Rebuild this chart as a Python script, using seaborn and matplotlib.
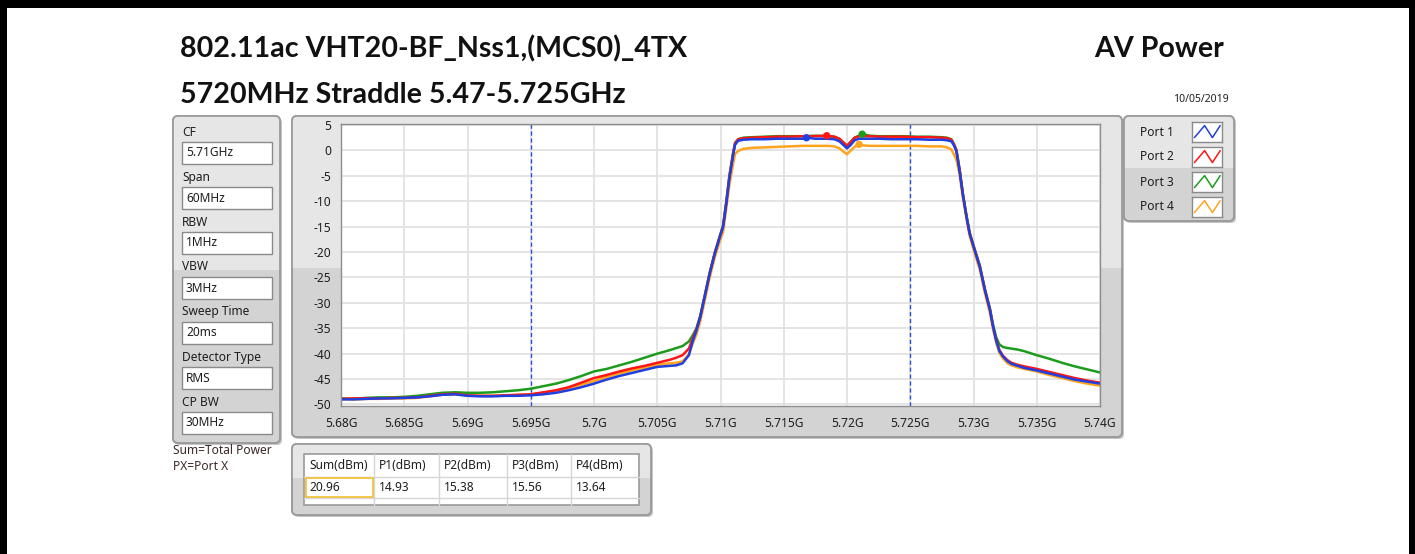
import numpy as np
import pandas as pd
import matplotlib
matplotlib.use("Agg")
import matplotlib.pyplot as plt
import seaborn as sns
from matplotlib.patches import FancyBboxPatch, Rectangle
from matplotlib.transforms import Affine2D

# ---------------------------------------------------------------- data
freq_mhz = [
    5680, 5681, 5682, 5683, 5684, 5685, 5686, 5687, 5688, 5689, 5690, 5691, 5692, 5693,
    5694, 5695, 5696, 5697, 5698, 5699, 5700, 5701, 5702, 5703, 5704, 5705, 5706,
    5706.5, 5707, 5707.5, 5707.8, 5708.1, 5708.4, 5708.75, 5709.15, 5709.55, 5709.95,
    5710.2, 5710.45, 5710.7, 5711.0, 5711.15, 5711.4,
    5711.8, 5712.5, 5713.5, 5714.5, 5715.5, 5716.5, 5716.8, 5717.5, 5718.4, 5719.0,
    5719.4, 5719.7, 5720.0, 5720.3, 5720.6, 5720.95, 5721.2, 5721.8, 5722.5, 5723.5,
    5724.5, 5725.5, 5726.5, 5727.5, 5727.9,
    5728.25, 5728.45, 5728.65, 5728.9, 5729.15, 5729.45, 5729.7, 5730.1, 5730.5,
    5730.9, 5731.3, 5731.55, 5731.8, 5732.05, 5732.35, 5732.7, 5733.0, 5733.5,
    5734, 5735, 5736, 5737, 5738, 5739, 5740,
]

port1_dbm = [  # blue
    -49.0, -49.0, -48.9, -48.8, -48.8, -48.7, -48.6, -48.4, -48.1, -48.0, -48.3, -48.4, -48.4, -48.3,
    -48.3, -48.2, -48.0, -47.7, -47.2, -46.6, -45.9, -45.1, -44.4, -43.8, -43.2, -42.6, -42.4,
    -42.3, -41.9, -40.3, -37.6, -35.4, -32.8, -28.8, -24.2, -20.3, -17.0,
    -15.1, -10.6, -5.5, -0.9, 1.1, 1.9,
    2.1, 2.2, 2.2, 2.3, 2.3, 2.3, 2.5, 2.3, 2.3, 2.2,
    1.8, 1.1, 0.4, 1.1, 2.0, 2.3, 2.3, 2.3, 2.3, 2.2,
    2.2, 2.2, 2.1, 2.1, 2.0,
    1.8, 1.0, -0.2, -4.0, -8.6, -13.1, -16.4, -19.7, -22.9,
    -27.5, -31.4, -34.7, -37.5, -39.5, -40.6, -41.5, -42.0, -42.4,
    -42.8, -43.3, -43.9, -44.5, -45.1, -45.5, -45.9,
]

port2_dbm = [  # red
    -48.9, -48.8, -48.8, -48.8, -48.7, -48.7, -48.6, -48.3, -48.0, -47.9, -48.2, -48.3, -48.3, -48.2,
    -48.1, -48.0, -47.6, -47.2, -46.6, -45.7, -44.8, -44.2, -43.5, -42.9, -42.4, -41.8, -41.2,
    -40.8, -40.3, -39.0, -37.0, -35.2, -32.7, -28.7, -24.1, -20.2, -16.9,
    -15.0, -10.4, -5.2, -0.6, 1.4, 2.2,
    2.4, 2.5, 2.6, 2.7, 2.7, 2.8, 2.8, 2.8, 2.9, 2.7,
    2.3, 1.6, 0.9, 1.7, 2.5, 2.8, 2.8, 2.8, 2.7, 2.7,
    2.7, 2.6, 2.6, 2.5, 2.4,
    2.1, 1.2, 0.0, -3.8, -8.4, -13.0, -16.3, -19.6, -22.8,
    -27.4, -31.3, -34.6, -37.3, -39.3, -40.5, -41.3, -41.8, -42.2,
    -42.5, -43.0, -43.6, -44.2, -44.8, -45.3, -45.7,
]

port3_dbm = [  # green
    -48.8, -48.9, -48.7, -48.6, -48.6, -48.5, -48.3, -48.0, -47.7, -47.6, -47.7, -47.7, -47.6, -47.4,
    -47.2, -46.9, -46.4, -45.9, -45.2, -44.4, -43.5, -43.0, -42.3, -41.6, -40.8, -40.0, -39.3,
    -38.9, -38.5, -37.6, -36.4, -35.0, -32.5, -28.6, -24.0, -20.1, -16.8,
    -14.8, -10.2, -5.0, -0.4, 1.5, 2.2,
    2.5, 2.6, 2.7, 2.8, 2.8, 2.8, 2.8, 2.9, 2.8, 2.7,
    2.3, 1.6, 0.9, 1.7, 2.5, 2.9, 3.2, 2.9, 2.8, 2.8,
    2.8, 2.7, 2.7, 2.6, 2.5,
    2.2, 1.3, 0.1, -3.7, -8.3, -12.9, -16.2, -19.5, -22.7,
    -27.2, -31.1, -34.4, -36.8, -38.2, -38.7, -38.9, -39.0, -39.2,
    -39.5, -40.3, -41.0, -41.8, -42.5, -43.1, -43.7,
]

port4_dbm = [  # orange
    -48.9, -49.0, -48.9, -48.9, -48.8, -48.8, -48.7, -48.4, -48.1, -48.0, -48.2, -48.3, -48.3, -48.2,
    -48.1, -48.0, -47.7, -47.3, -46.8, -46.1, -45.4, -44.6, -43.9, -43.3, -42.8, -42.2, -41.9,
    -41.8, -41.5, -40.2, -38.0, -36.2, -33.6, -29.6, -25.0, -21.0, -17.8,
    -16.1, -11.6, -6.8, -2.6, -0.7, -0.1,
    0.3, 0.5, 0.6, 0.7, 0.8, 0.9, 0.9, 0.9, 0.9, 0.8,
    0.4, -0.2, -0.75, 0.0, 0.7, 1.2, 1.0, 0.9, 0.9, 0.9,
    0.9, 0.9, 0.8, 0.8, 0.6,
    0.2, -0.8, -1.8, -4.8, -9.2, -13.6, -16.9, -20.3, -23.5,
    -28.1, -32.0, -35.3, -37.9, -39.9, -41.0, -41.9, -42.3, -42.7,
    -43.0, -43.5, -44.2, -44.8, -45.4, -45.9, -46.3,
]

port_names = ["Port 1", "Port 2", "Port 3", "Port 4"]
port_colors = ["#1f3fe0", "#ff1515", "#1c9c1c", "#ffa41c"]

x_ticks_mhz = [5680, 5685, 5690, 5695, 5700, 5705, 5710, 5715, 5720, 5725, 5730, 5735, 5740]
x_tick_labels = ["5.68G", "5.685G", "5.69G", "5.695G", "5.7G", "5.705G", "5.71G",
                 "5.715G", "5.72G", "5.725G", "5.73G", "5.735G", "5.74G"]
y_ticks = [5, 0, -5, -10, -15, -20, -25, -30, -35, -40, -45, -50]
y_tick_labels = ["5", "0", "-5", "-10", "-15", "-20", "-25", "-30", "-35", "-40", "-45", "-50"]
band_lines_mhz = [5695, 5725]

param_labels = ["CF", "Span", "RBW", "VBW", "Sweep Time", "Detector Type", "CP BW"]
param_values = ["5.71GHz", "60MHz", "1MHz", "3MHz", "20ms", "RMS", "30MHz"]

table_headers = ["Sum(dBm)", "P1(dBm)", "P2(dBm)", "P3(dBm)", "P4(dBm)"]
table_values = ["20.96", "14.93", "15.38", "15.56", "13.64"]

title_text = "802.11ac VHT20-BF_Nss1,(MCS0)_4TX"
subtitle_text = "5720MHz Straddle 5.47-5.725GHz"
mode_text = "AV Power"
date_text = "10/05/2019"
note_lines = ["Sum=Total Power", "PX=Port X"]

# ---------------------------------------------------------------- figure
sns.set_theme(style="white")
plt.rcParams["font.family"] = ["Noto Sans", "DejaVu Sans"]
plt.rcParams["axes.unicode_minus"] = False

W, H = 1415, 554
fig = plt.figure(figsize=(W / 100, H / 100), dpi=100)
fig.patch.set_facecolor("white")

# pixel coordinates, origin top-left
PX = Affine2D().scale(1.0 / W, -1.0 / H).translate(0, 1) + fig.transFigure

TXT = "#1e1e1e"
BORDER = "#9c9c9c"
LIGHT = "#e6e6e6"
DARK = "#d3d3d3"
HEAD_FONT = ["Lato", "Open Sans", "DejaVu Sans"]


def panel(x0, y0, x1, y1, split):
    shadow = FancyBboxPatch((x0 + 2, y0 + 2), x1 - x0, y1 - y0,
                            boxstyle="round,pad=0,rounding_size=5",
                            transform=PX, facecolor="#c4c4c4", edgecolor="none", zorder=1)
    fig.add_artist(shadow)
    box = FancyBboxPatch((x0, y0), x1 - x0, y1 - y0,
                         boxstyle="round,pad=0,rounding_size=5",
                         transform=PX, facecolor=DARK, edgecolor=BORDER, lw=1.3, zorder=2)
    fig.add_artist(box)
    top = Rectangle((x0, y0), x1 - x0, split - y0, transform=PX,
                    facecolor=LIGHT, edgecolor="none", zorder=2.1)
    top.set_clip_path(box)
    fig.add_artist(top)
    edge = FancyBboxPatch((x0, y0), x1 - x0, y1 - y0,
                          boxstyle="round,pad=0,rounding_size=5",
                          transform=PX, facecolor="none", edgecolor=BORDER, lw=1.3, zorder=2.2)
    fig.add_artist(edge)


def field(x0, y0, x1, y1, z=3):
    fig.add_artist(Rectangle((x0, y0), x1 - x0, y1 - y0, transform=PX,
                             facecolor="white", edgecolor="#8a8a8a", lw=1.0, zorder=z))


# outer frame (black bands top, left, right)
for rx, ry, rw, rh in [(0, 0, W, 8), (0, 0, 7, H), (W - 6, 0, 6, H)]:
    fig.add_artist(Rectangle((rx, ry), rw, rh, transform=PX, facecolor="black",
                             edgecolor="none", zorder=10))

# titles
fig.text(180, 57, title_text, transform=PX, fontsize=20.6, fontweight="bold",
         family=HEAD_FONT, color="#111111", ha="left", va="baseline")
fig.text(180, 103, subtitle_text, transform=PX, fontsize=20.6, fontweight="bold",
         family=HEAD_FONT, color="#111111", ha="left", va="baseline")
fig.text(1224, 57, mode_text, transform=PX, fontsize=20.6, fontweight="bold",
         family=HEAD_FONT, color="#111111", ha="right", va="baseline")
fig.text(1229, 99, date_text, transform=PX, fontsize=7.5, color=TXT,
         ha="right", va="center")

# panels
panel(173, 116, 280, 443, 270)
panel(292, 116, 1122, 437, 268)
panel(1124, 116, 1234, 221, 168)
panel(292, 444, 651, 515, 478)

# settings column
for i, (lab, val) in enumerate(zip(param_labels, param_values)):
    yc = 132 + 45 * i
    fig.text(182, yc, lab, transform=PX, fontsize=8.6, color=TXT, ha="left",
             va="center", zorder=4)
    field(182, yc + 10, 272, yc + 32)
    fig.text(186, yc + 21, val, transform=PX, fontsize=8.6, color=TXT, ha="left",
             va="center", zorder=4)

for i, line in enumerate(note_lines):
    fig.text(173, 451 + 16 * i, line, transform=PX, fontsize=8.6, color="#3d2828",
             ha="left", va="center")

# ---------------------------------------------------------------- spectrum axes
ax = fig.add_axes([341 / W, 1 - 406 / H, 759 / W, 282 / H])
ax.set_zorder(5)
ax.set_facecolor("white")

long_df = pd.DataFrame({
    "freq": freq_mhz * 4,
    "level": port1_dbm + port2_dbm + port3_dbm + port4_dbm,
    "port": [n for n in port_names for _ in freq_mhz],
})
palette = dict(zip(port_names, port_colors))

sns.lineplot(data=long_df, x="freq", y="level", hue="port",
             hue_order=port_names[::-1], palette=palette, estimator=None,
             sort=False, linewidth=1.8, legend=False, ax=ax)

# peak marker of each trace
peaks = long_df.loc[long_df.groupby("port")["level"].idxmax()]
sns.scatterplot(data=peaks, x="freq", y="level", hue="port", palette=palette,
                s=28, edgecolor="none", legend=False, ax=ax, zorder=6)

for f in band_lines_mhz:
    ax.axvline(f, color="#2a4fd6", lw=1.0, ls=(0, (3, 2)), zorder=1)

ax.set_xlim(x_ticks_mhz[0], x_ticks_mhz[-1])
ax.set_ylim(-50.3, 5.2)
ax.set_xticks(x_ticks_mhz)
ax.set_xticklabels(x_tick_labels)
ax.set_yticks(y_ticks)
ax.set_yticklabels(y_tick_labels)
ax.grid(True, color="#e2e2e2", lw=1.3, zorder=0)
ax.set_axisbelow(True)
ax.tick_params(axis="both", which="both", direction="out", length=5, width=1,
               color="#333333", labelsize=8.6, labelcolor=TXT)
ax.tick_params(axis="x", pad=3)
ax.tick_params(axis="y", pad=2)
ax.set_xlabel("")
ax.set_ylabel("")
for sp in ax.spines.values():
    sp.set_color("#8e8e8e")
    sp.set_linewidth(1.0)

# ---------------------------------------------------------------- legend panel
for i, (name, col) in enumerate(zip(port_names, port_colors)):
    yc = 132 + 25 * i
    fig.text(1140, yc, name, transform=PX, fontsize=8.6, color=TXT, ha="left",
             va="center", zorder=4)
    icon = fig.add_axes([1192 / W, 1 - (yc + 10) / H, 30 / W, 20 / H])
    icon.set_zorder(6)
    icon.plot([0.08, 0.42, 0.68, 0.94], [0.22, 0.82, 0.22, 0.82], color=col, lw=1.1)
    icon.set_xlim(0, 1)
    icon.set_ylim(0, 1)
    icon.set_xticks([])
    icon.set_yticks([])
    icon.set_facecolor("white")
    for sp in icon.spines.values():
        sp.set_color("#8a8a8a")
        sp.set_linewidth(1.0)

# ---------------------------------------------------------------- power table
col_edges = [304, 374, 439, 507, 571, 639]
row_edges = [454, 477, 498, 505]
fig.add_artist(Rectangle((col_edges[0], row_edges[0]), col_edges[-1] - col_edges[0],
                         row_edges[-1] - row_edges[0], transform=PX, facecolor="white",
                         edgecolor="#9a9a9a", lw=1.2, zorder=3))
for cx in col_edges[1:-1]:
    fig.add_artist(plt.Line2D([cx, cx], [row_edges[0], row_edges[-1]], transform=PX,
                              color="#d6d6d6", lw=1.0, zorder=3.5))
for ry in row_edges[1:-1]:
    fig.add_artist(plt.Line2D([col_edges[0], col_edges[-1]], [ry, ry], transform=PX,
                              color="#d6d6d6", lw=1.0, zorder=3.5))
fig.add_artist(Rectangle((col_edges[0] + 2, row_edges[1] + 1), col_edges[1] - col_edges[0] - 3,
                         row_edges[2] - row_edges[1] - 2, transform=PX, facecolor="none",
                         edgecolor="#f2c23c", lw=1.3, zorder=3.8))
for j, (hdr, val) in enumerate(zip(table_headers, table_values)):
    fig.text(col_edges[j] + 5, (row_edges[0] + row_edges[1]) / 2, hdr, transform=PX,
             fontsize=8.6, color=TXT, ha="left", va="center", zorder=4)
    fig.text(col_edges[j] + 5, (row_edges[1] + row_edges[2]) / 2, val, transform=PX,
             fontsize=8.6, color=TXT, ha="left", va="center", zorder=4)

fig.savefig("out.png", dpi=100, facecolor="white")
